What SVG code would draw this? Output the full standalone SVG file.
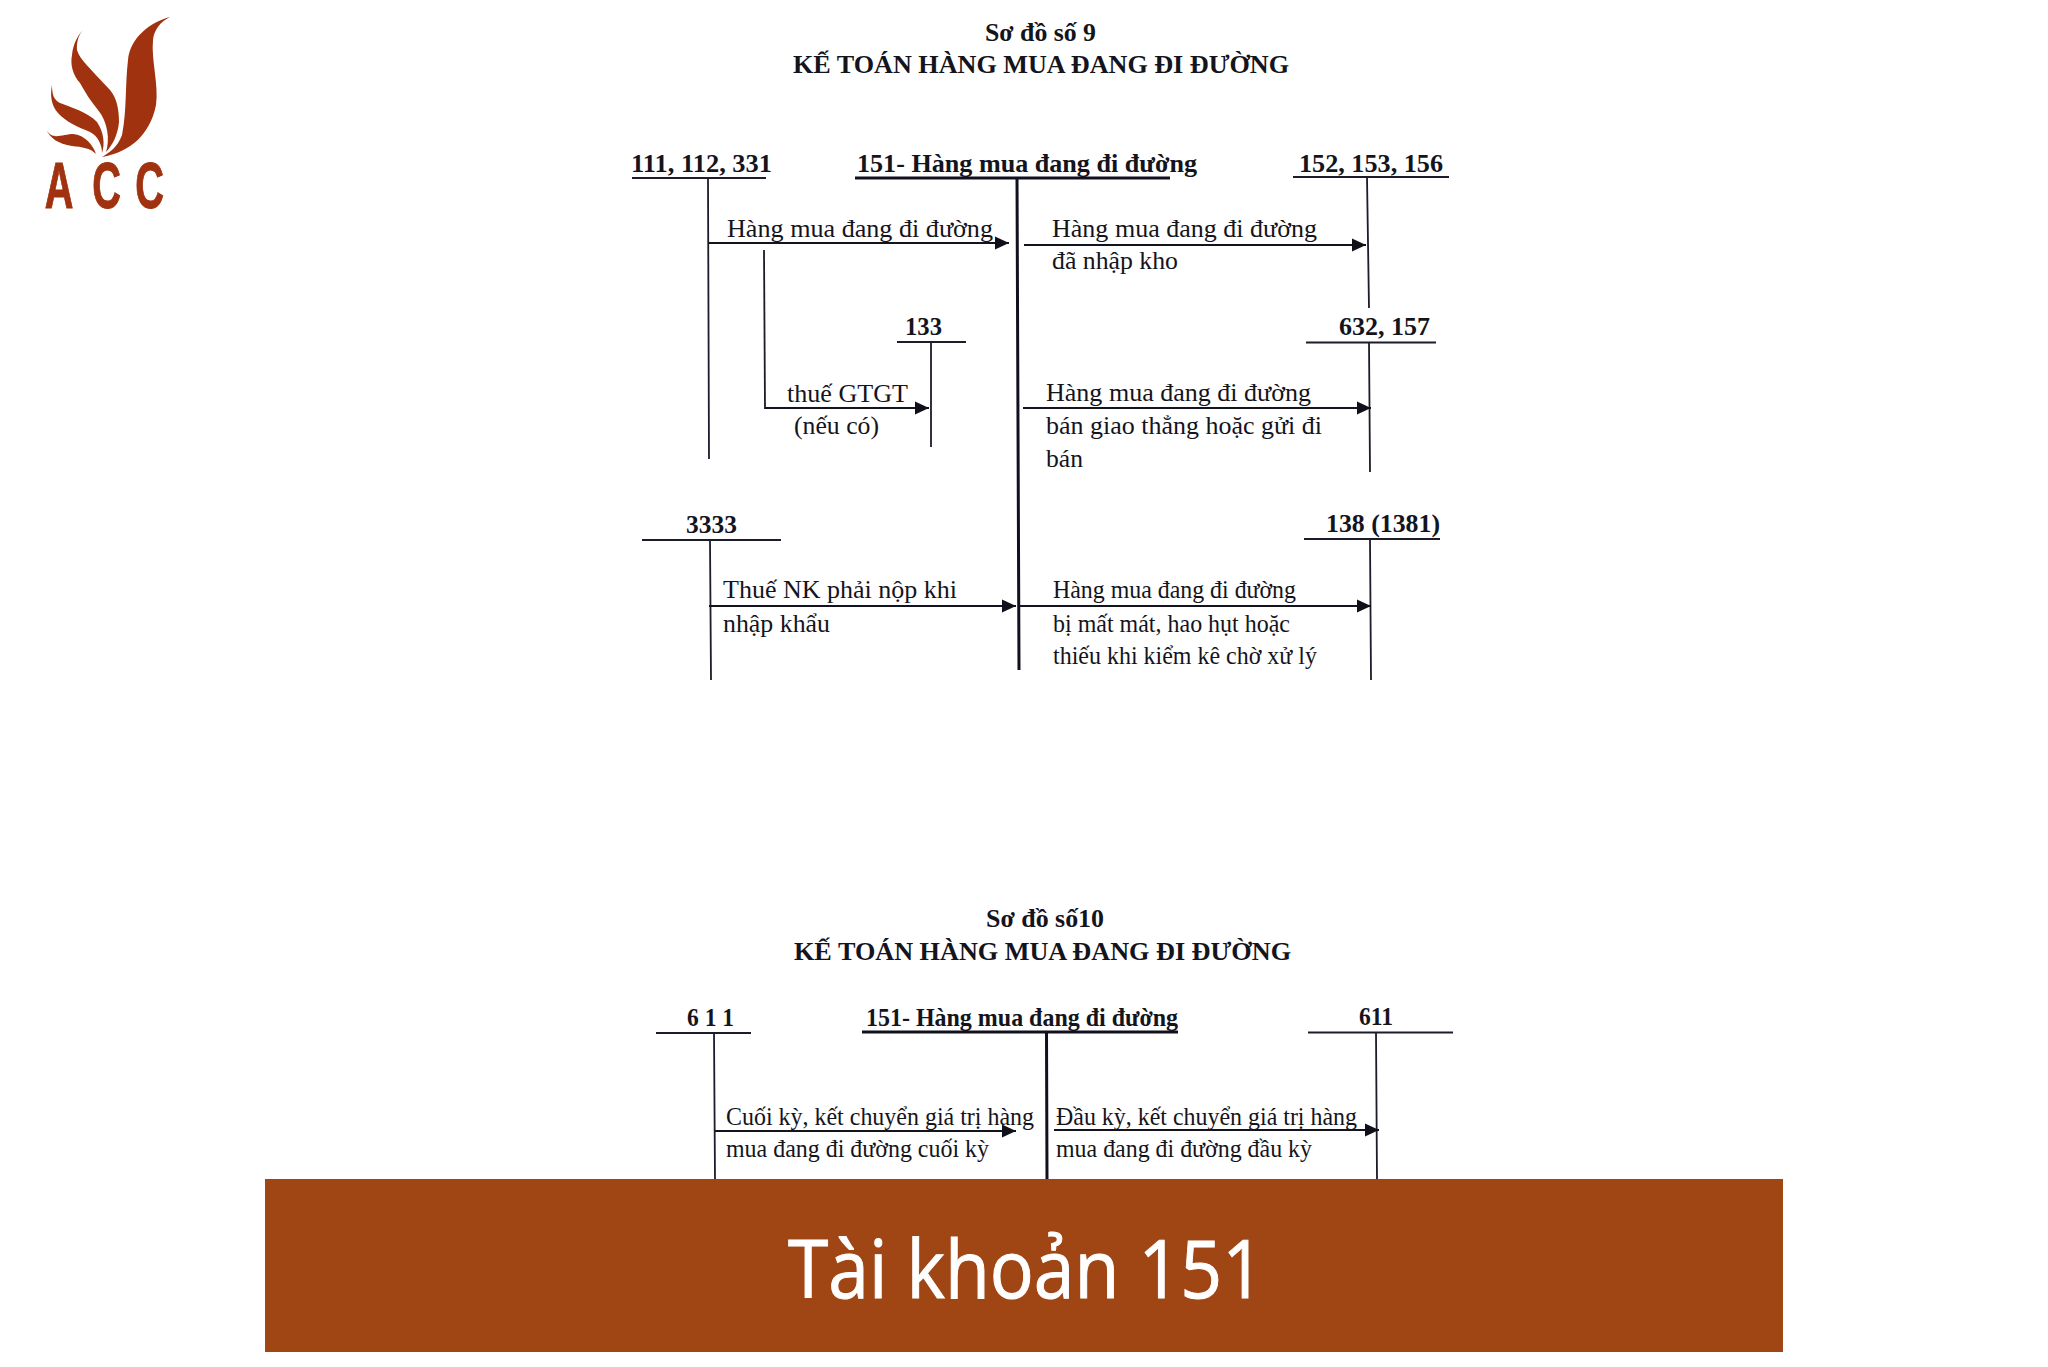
<svg xmlns="http://www.w3.org/2000/svg" width="2048" height="1367" viewBox="0 0 2048 1367">
<style>
text{font-family:"Liberation Serif","Times New Roman",serif;fill:#14141c}
.h{font-weight:bold;font-size:26px}
.t{font-size:26px}
.s{font-size:25px}
.r{stroke:#1c1c2a;stroke-width:1.8;fill:none}
.b{stroke:#10101e;stroke-width:3;fill:none}
.a{stroke:#14141e;stroke-width:2.2;fill:none;marker-end:url(#ah)}
</style>
<defs>
<marker id="ah" markerUnits="userSpaceOnUse" markerWidth="15" markerHeight="14" refX="14" refY="7" orient="auto"><path d="M0,0.5L14,7L0,13.5Z" fill="#10101a"/></marker>
</defs>
<rect width="2048" height="1367" fill="#fff"/>

<g id="logo">
<g fill="#a0320f">
<path d="M170,17C150,22 130,38 128,60C125,85 127,110 122,135C117,148 110,152 102,157C130,152 150,135 156,105C159,85 151,60 153,40C154,30 160,22 170,17Z"/>
<path d="M83,30C76,38 77,47 77,50C80,60 90,68 110,90C117,98 119,110 119,122C118,135 112,146 106,152C110,140 108,122 98,110C90,100 85,92 80,83C73,75 70,65 72,55C73,45 77,36 83,30Z"/>
<path d="M52,85C50,95 51,105 58,113C66,122 78,127 90,132C98,136 102,145 102,153C105,145 104,132 97,122C88,112 70,107 60,103C54,100 52,95 52,85Z"/>
<path d="M46,129C50,138 58,144 72,146C82,147 90,148 96,154C93,145 85,135 73,134C68,134 58,137 55,136C51,136 48,133 46,129Z"/>
</g>
<text transform="scale(.62 1)" x="72 149 218" y="208" style="font-family:'Liberation Sans',Arial,sans-serif;font-weight:bold;font-size:64px;fill:#a0320f;stroke:#a0320f;stroke-width:1">ACC</text>
</g>

<g id="title-9">
<text class="h" x="985" y="41" textLength="111" lengthAdjust="spacingAndGlyphs">Sơ đồ số 9</text>
<text class="h" x="793" y="73" textLength="496" lengthAdjust="spacingAndGlyphs">KẾ TOÁN HÀNG MUA ĐANG ĐI ĐƯỜNG</text>
</g>

<g id="acc-111">
<text class="h" x="631" y="172" textLength="141" lengthAdjust="spacingAndGlyphs">111, 112, 331</text>
<path class="r" d="M632,178H766M708,178L709,459"/>
</g>
<g id="acc-151">
<text class="h" x="857" y="172" textLength="340" lengthAdjust="spacingAndGlyphs">151- Hàng mua đang đi đường</text>
<path class="b" d="M855,178H1170M1017,178L1019,670"/>
</g>
<g id="acc-152">
<text class="h" x="1299" y="172" textLength="144" lengthAdjust="spacingAndGlyphs">152, 153, 156</text>
<path class="r" d="M1293,177H1449M1367,177L1369,308"/>
</g>
<g id="acc-133">
<text class="h" x="905" y="335" textLength="37" lengthAdjust="spacingAndGlyphs">133</text>
<path class="r" d="M897,342H966M931,342V447"/>
</g>
<g id="acc-632">
<text class="h" x="1339" y="335" textLength="91" lengthAdjust="spacingAndGlyphs">632, 157</text>
<path class="r" d="M1306,342.500H1436M1369,342L1370,472"/>
</g>
<g id="acc-3333">
<text class="h" x="686" y="533" textLength="51" lengthAdjust="spacingAndGlyphs">3333</text>
<path class="r" d="M642,540H781M710,540L711,680"/>
</g>
<g id="acc-138">
<text class="h" x="1326" y="532" textLength="114" lengthAdjust="spacingAndGlyphs">138 (1381)</text>
<path class="r" d="M1304,539H1440M1370,539L1371,680"/>
</g>

<g id="title-10">
<text class="h" x="986" y="927" textLength="118" lengthAdjust="spacingAndGlyphs">Sơ đồ số10</text>
<text class="h" x="794" y="960" textLength="497" lengthAdjust="spacingAndGlyphs">KẾ TOÁN HÀNG MUA ĐANG ĐI ĐƯỜNG</text>
</g>
<g id="acc-611-left">
<text class="h" x="687" y="1026" textLength="47" lengthAdjust="spacingAndGlyphs">6 1 1</text>
<path class="r" d="M656,1033H751M714,1033L715,1180"/>
</g>
<g id="acc-151b">
<text class="h" x="866" y="1026" textLength="312" lengthAdjust="spacingAndGlyphs">151- Hàng mua đang đi đường</text>
<path class="b" d="M862,1032H1178M1046.500,1032L1047,1180"/>
</g>
<g id="acc-611-right">
<text class="h" x="1359" y="1025" textLength="34" lengthAdjust="spacingAndGlyphs">611</text>
<path class="r" d="M1308,1032.500H1453M1376,1032L1377,1180"/>
</g>

<g id="connectors">
<path class="a" d="M708,243H1009"/>
<path class="a" d="M1024,245H1366"/>
<path class="r" d="M764,250L765,409"/>
<path class="a" d="M765,408H929"/>
<path class="a" d="M1023,408H1371"/>
<path class="a" d="M709,606H1016"/>
<path class="a" d="M1019,606H1371"/>
<path class="a" d="M715,1131H1016"/>
<path class="a" d="M1054,1130H1379"/>
</g>

<g id="labels">
<text class="t" x="727" y="237" textLength="266" lengthAdjust="spacingAndGlyphs">Hàng mua đang đi đường</text>
<text class="t" x="1052" y="237" textLength="265" lengthAdjust="spacingAndGlyphs">Hàng mua đang đi đường</text>
<text class="t" x="1052" y="269" textLength="126" lengthAdjust="spacingAndGlyphs">đã nhập kho</text>
<text class="t" x="787" y="402" textLength="121" lengthAdjust="spacingAndGlyphs">thuế GTGT</text>
<text class="t" x="794" y="434" textLength="85" lengthAdjust="spacingAndGlyphs">(nếu có)</text>
<text class="t" x="1046" y="401" textLength="265" lengthAdjust="spacingAndGlyphs">Hàng mua đang đi đường</text>
<text class="t" x="1046" y="434" textLength="276" lengthAdjust="spacingAndGlyphs">bán giao thẳng hoặc gửi đi</text>
<text class="t" x="1046" y="467" textLength="37" lengthAdjust="spacingAndGlyphs">bán</text>
<text class="t" x="723" y="598" textLength="234" lengthAdjust="spacingAndGlyphs">Thuế NK phải nộp khi</text>
<text class="t" x="723" y="632" textLength="107" lengthAdjust="spacingAndGlyphs">nhập khẩu</text>
<text class="s" x="1053" y="598" textLength="243" lengthAdjust="spacingAndGlyphs">Hàng mua đang đi đường</text>
<text class="s" x="1053" y="632" textLength="237" lengthAdjust="spacingAndGlyphs">bị mất mát, hao hụt hoặc</text>
<text class="s" x="1053" y="664" textLength="264" lengthAdjust="spacingAndGlyphs">thiếu khi kiểm kê chờ xử lý</text>
<text class="s" x="726" y="1125" textLength="308" lengthAdjust="spacingAndGlyphs">Cuối kỳ, kết chuyển giá trị hàng</text>
<text class="s" x="726" y="1157" textLength="263" lengthAdjust="spacingAndGlyphs">mua đang đi đường cuối kỳ</text>
<text class="s" x="1056" y="1125" textLength="301" lengthAdjust="spacingAndGlyphs">Đầu kỳ, kết chuyển giá trị hàng</text>
<text class="s" x="1056" y="1157" textLength="256" lengthAdjust="spacingAndGlyphs">mua đang đi đường đầu kỳ</text>
</g>

<g id="banner">
<rect x="265" y="1179" width="1518" height="173" fill="#a04514"/>
<text x="788" y="1298" textLength="476" lengthAdjust="spacingAndGlyphs" style="font-family:'Open Sans','Noto Sans',sans-serif;font-size:80px;fill:#fff;stroke:#fff;stroke-width:1">Tài khoản 151</text>
</g>
</svg>
